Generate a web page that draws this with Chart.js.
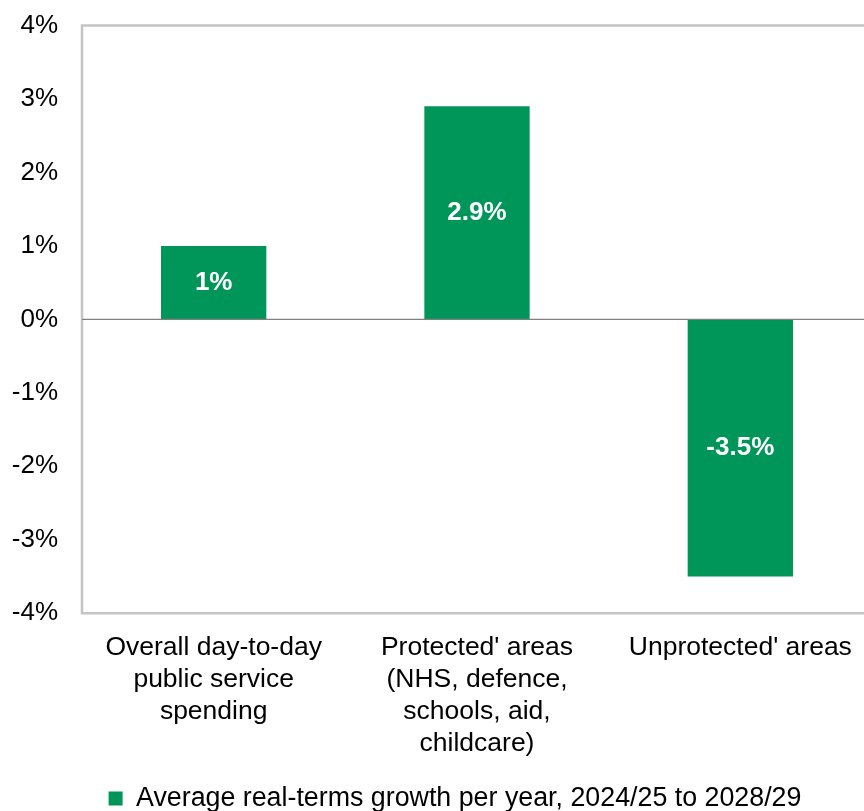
<!DOCTYPE html>
<html>
<head>
<meta charset="utf-8">
<script src="https://cdn.jsdelivr.net/npm/chart.js@4/dist/chart.umd.min.js"></script>
<style>
  html, body { margin: 0; padding: 0; overflow: hidden; background: #fff; }
  #wrap { position: relative; width: 872px; height: 808px; margin-top: 3px; }
</style>
</head>
<body>
<div id="wrap"><canvas id="c"></canvas></div>
<script>
const categories = [
  ["Overall day-to-day", "public service", "spending"],
  ["Protected' areas", "(NHS, defence,", "schools, aid,", "childcare)"],
  ["Unprotected' areas"]
];
const seriesName = "Average real-terms growth per year, 2024/25 to 2028/29";
const growthValues = [1, 2.9, -3.5];
const valueLabels = ["1%", "2.9%", "-3.5%"];
const yTickMin = -4;
const yTickMax = 4;
const yTickStep = 1;

const FONT = "'Liberation Sans', Arial, sans-serif";
const GREEN = '#00965A';

const framePlugin = {
  id: 'frame',
  beforeDatasetsDraw(chart) {
    const {ctx, chartArea: a} = chart;
    ctx.save();
    ctx.strokeStyle = '#c4c4c4';
    ctx.lineWidth = 2.5;
    ctx.beginPath();
    ctx.moveTo(a.right + 5, a.top);
    ctx.lineTo(a.left, a.top);
    ctx.lineTo(a.left, a.bottom);
    ctx.lineTo(a.right + 5, a.bottom);
    ctx.stroke();
    ctx.restore();
  },
  afterDatasetsDraw(chart) {
    const {ctx, chartArea: a} = chart;
    const y0 = chart.scales.y.getPixelForValue(0);
    ctx.save();
    ctx.strokeStyle = '#808080';
    ctx.lineWidth = 1.3;
    ctx.beginPath();
    ctx.moveTo(a.left, y0);
    ctx.lineTo(a.right + 5, y0);
    ctx.stroke();
    const meta = chart.getDatasetMeta(0);
    ctx.fillStyle = '#ffffff';
    ctx.font = 'bold 26px ' + FONT;
    ctx.textAlign = 'center';
    ctx.textBaseline = 'middle';
    meta.data.forEach((el, i) => {
      ctx.fillText(valueLabels[i], el.x, (el.y + el.base) / 2);
    });
    ctx.restore();
  },
  afterLayout(chart) {
    const lg = chart.legend;
    if (lg) {
      lg.left += 19; lg.right += 19;
      lg.top += 11; lg.bottom += 11;
    }
  }
};

new Chart(document.getElementById('c'), {
  type: 'bar',
  data: {
    labels: categories,
    datasets: [{
      label: seriesName,
      data: growthValues,
      backgroundColor: GREEN,
      borderWidth: 0,
      categoryPercentage: 1.0,
      barPercentage: 0.4
    }]
  },
  options: {
    responsive: true,
    maintainAspectRatio: false,
    animation: false,
    events: [],
    layout: { padding: { top: 15, left: 0, right: 0, bottom: 0 } },
    plugins: {
      tooltip: { enabled: false },
      legend: {
        position: 'bottom',
        labels: {
          boxWidth: 14,
          boxHeight: 14,
          padding: 0,
          color: '#000',
          font: { family: FONT, size: 26.8 }
        }
      }
    },
    scales: {
      x: {
        grid: { display: false },
        border: { display: false },
        ticks: {
          color: '#000',
          padding: 10,
          maxRotation: 0,
          autoSkip: false,
          font: { family: FONT, size: 26.5, lineHeight: 32 / 26.5 }
        },
        afterFit(scale) { scale.height = 161; }
      },
      y: {
        min: yTickMin,
        max: yTickMax,
        grid: { display: false },
        border: { display: false },
        ticks: {
          stepSize: yTickStep,
          color: '#000',
          padding: 16,
          font: { family: FONT, size: 26, lineHeight: 0.5 },
          callback: v => v + '%'
        },
        afterFit(scale) { scale.width = 82; }
      }
    }
  },
  plugins: [framePlugin]
});
</script>
</body>
</html>
